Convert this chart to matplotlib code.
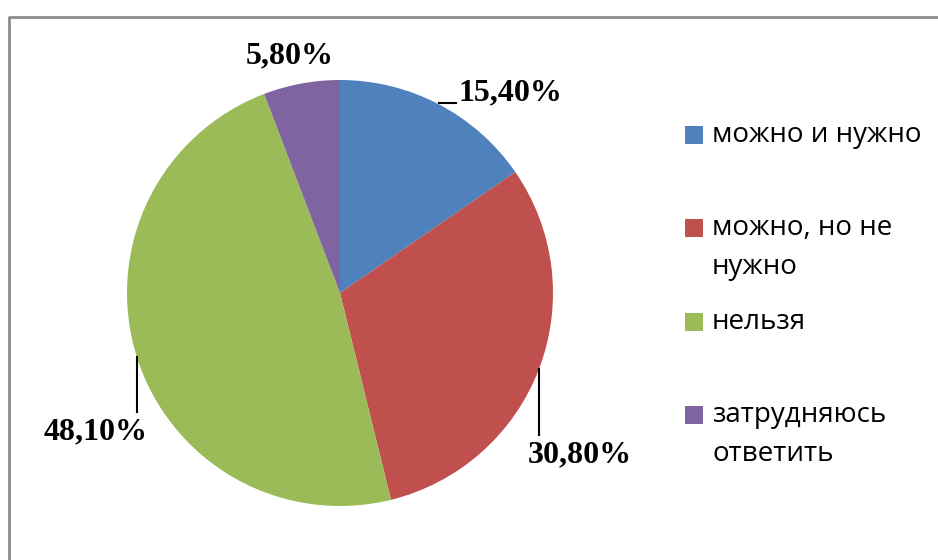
import matplotlib
matplotlib.use("Agg")
import matplotlib.pyplot as plt
from matplotlib.patches import Rectangle

# --- data ---
categories = ["можно и нужно", "можно, но не\nнужно", "нельзя", "затрудняюсь\nответить"]
shares = [15.4, 30.8, 48.1, 5.8]
value_labels = ["15,40%", "30,80%", "48,10%", "5,80%"]
colors = ["#4F81BD", "#C0504D", "#9BBB59", "#8064A2"]

W, H = 938, 560
fig = plt.figure(figsize=(W / 100, H / 100), dpi=100)
ax = fig.add_axes([0, 0, 1, 1])

# pie; y axis gets flipped below so counterclock=True draws clockwise on screen
cx, cy, r = 340, 293, 213
ax.pie(shares, colors=colors, startangle=-90, counterclock=True,
       center=(cx, cy), radius=r, frame=True,
       wedgeprops=dict(linewidth=0))
ax.set_xlim(0, W)
ax.set_ylim(H, 0)
ax.set_aspect("equal")
ax.axis("off")

# chart frame (right/bottom edges run off the picture)
ax.plot([9, 9, W + 5], [H + 5, 16.5, 16.5], color="#8c8c8c", lw=2, solid_capstyle="butt")

# value labels (layout positions in pixels)
label_pos = [(510, 93), (580, 455), (96, 432), (290, 56)]
for (x, y), txt in zip(label_pos, value_labels):
    ax.text(x, y, txt, ha="center", va="center", fontsize=23,
            fontweight="bold", family="Liberation Serif")

# leader lines
ax.plot([439, 456], [103, 103], color="black", lw=1.5)
ax.plot([539, 539], [369, 435], color="black", lw=1.5)
ax.plot([137, 137], [357, 412], color="black", lw=1.5)

# legend drawn by hand to keep the uneven spacing
legend_y = [135, 228, 322, 415]
line_step = 39
for y, lab, col in zip(legend_y, categories, colors):
    ax.add_patch(Rectangle((685, y - 9), 18, 18, color=col, lw=0))
    for i, part in enumerate(lab.split("\n")):
        ax.text(712, y + i * line_step, part, ha="left", va="center",
                fontsize=20, family="Open Sans")

fig.savefig("out.png", dpi=100)
